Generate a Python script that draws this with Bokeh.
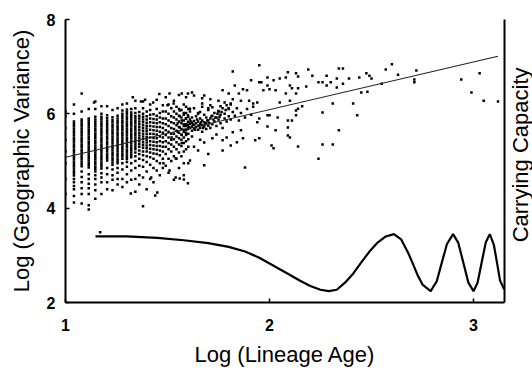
import math
from bokeh.plotting import figure
from bokeh.layouts import row
from bokeh.models import Range1d, LinearAxis, FixedTicker, Label
from bokeh.embed import file_html
from bokeh.resources import INLINE

# ---------------- data ----------------
# lineage ages (integers) that form the vertical stripes at the left
STRIPE_AGES = [10, 11, 12, 13, 14, 15, 16, 17, 18, 19, 20, 21, 22, 23, 24, 25,
               26, 27, 28, 29, 30, 31, 32, 33, 34, 35, 36, 37, 38, 39, 40]
# log geographic variance of the lineages in each stripe
STRIPE_Y = [
    [4.30, 4.62, 4.95, 5.20, 5.45, 5.70, 5.95, 6.05],
    [4.12, 4.26, 4.40, 4.47, 4.55, 4.62, 4.69, 4.74, 4.79, 4.84, 4.89, 4.94, 4.99, 5.04, 5.09, 5.14,
     5.19, 5.24, 5.29, 5.34, 5.39, 5.44, 5.49, 5.54, 5.59, 5.64, 5.69, 5.74, 5.79, 5.84, 6.00, 6.20],
    [4.10, 4.30, 4.42, 4.55, 4.66, 4.78, 4.89, 4.94, 4.99, 5.04, 5.09, 5.14, 5.19, 5.24, 5.29, 5.34,
     5.39, 5.44, 5.49, 5.54, 5.59, 5.64, 5.69, 5.74, 5.79, 5.84, 5.88, 6.05, 6.43],
    [3.97, 4.06, 4.30, 4.42, 4.52, 4.62, 4.72, 4.86, 4.91, 4.96, 5.01, 5.06, 5.11, 5.16, 5.21, 5.26,
     5.31, 5.36, 5.41, 5.46, 5.51, 5.56, 5.61, 5.66, 5.71, 5.76, 5.81, 5.86, 5.90, 6.10],
    [4.20, 4.38, 4.50, 4.62, 4.70, 4.78, 4.83, 4.88, 4.93, 4.98, 5.03, 5.08, 5.13, 5.18, 5.23, 5.28,
     5.33, 5.38, 5.43, 5.48, 5.53, 5.58, 5.63, 5.68, 5.73, 5.78, 5.83, 5.88, 5.94, 6.10, 6.26],
    [4.30, 4.55, 4.65, 4.74, 4.84, 4.89, 4.94, 4.99, 5.04, 5.09, 5.14, 5.19, 5.24, 5.29, 5.34, 5.39,
     5.44, 5.49, 5.54, 5.59, 5.64, 5.69, 5.74, 5.79, 5.84, 5.89, 5.94, 6.00, 6.16],
    [4.40, 4.55, 4.72, 4.85, 5.01, 5.06, 5.11, 5.16, 5.21, 5.26, 5.31, 5.36, 5.41, 5.46, 5.51, 5.56,
     5.61, 5.66, 5.71, 5.76, 5.81, 5.86, 5.91, 5.97, 6.16],
    [4.38, 4.60, 4.70, 4.82, 4.92, 4.97, 5.02, 5.07, 5.12, 5.17, 5.22, 5.27, 5.32, 5.37, 5.42, 5.47,
     5.52, 5.57, 5.62, 5.67, 5.72, 5.77, 5.82, 5.87, 5.93, 6.08],
    [4.50, 4.62, 4.75, 4.85, 4.95, 5.00, 5.05, 5.10, 5.15, 5.20, 5.25, 5.30, 5.35, 5.40, 5.45, 5.50,
     5.55, 5.60, 5.65, 5.70, 5.75, 5.80, 5.85, 5.90, 5.96, 6.12],
    [4.45, 4.62, 4.82, 4.95, 5.05, 5.10, 5.15, 5.20, 5.25, 5.30, 5.35, 5.40, 5.45, 5.50, 5.55, 5.60,
     5.65, 5.70, 5.75, 5.80, 5.85, 5.90, 5.95, 6.00, 6.07, 6.20],
    [4.55, 4.72, 4.88, 4.98, 5.04, 5.09, 5.14, 5.19, 5.24, 5.29, 5.34, 5.39, 5.44, 5.49, 5.54, 5.59,
     5.64, 5.69, 5.74, 5.79, 5.84, 5.89, 5.94, 5.99, 6.04, 6.09, 6.22],
    [4.60, 4.80, 4.95, 5.08, 5.13, 5.18, 5.23, 5.28, 5.33, 5.38, 5.43, 5.48, 5.53, 5.58, 5.63, 5.68,
     5.73, 5.78, 5.83, 5.88, 5.93, 5.98, 6.03, 6.10],
    [4.35, 4.62, 4.85, 5.00, 5.10, 5.18, 5.25, 5.30, 5.35, 5.40, 5.45, 5.50, 5.55, 5.60, 5.65, 5.70,
     5.75, 5.80, 5.85, 5.90, 5.95, 6.02, 6.12, 6.28],
    [4.50, 4.70, 4.90, 5.05, 5.15, 5.22, 5.30, 5.36, 5.42, 5.48, 5.54, 5.60, 5.66, 5.72, 5.78, 5.84,
     5.90, 5.96, 6.04],
    [4.65, 4.88, 5.02, 5.12, 5.20, 5.28, 5.34, 5.40, 5.46, 5.52, 5.58, 5.64, 5.70, 5.76, 5.82, 5.88,
     5.94, 6.00, 6.12, 6.26],
    [4.40, 4.78, 4.98, 5.10, 5.20, 5.27, 5.33, 5.39, 5.45, 5.51, 5.57, 5.63, 5.69, 5.75, 5.81, 5.88,
     5.95, 6.05],
    [4.62, 4.92, 5.08, 5.18, 5.26, 5.34, 5.42, 5.50, 5.58, 5.66, 5.74, 5.82, 5.90, 5.98, 6.08, 6.20],
    [4.55, 4.85, 5.05, 5.16, 5.25, 5.33, 5.41, 5.49, 5.57, 5.65, 5.73, 5.81, 5.89, 5.99],
    [4.80, 5.00, 5.15, 5.24, 5.32, 5.40, 5.48, 5.56, 5.64, 5.72, 5.80, 5.88, 5.96, 6.10, 6.30],
    [4.70, 4.95, 5.12, 5.22, 5.32, 5.42, 5.52, 5.62, 5.72, 5.82, 5.92, 6.02],
    [4.85, 5.05, 5.20, 5.30, 5.40, 5.50, 5.60, 5.70, 5.80, 5.90, 6.05, 6.18],
    [4.90, 5.15, 5.30, 5.42, 5.55, 5.65, 5.78, 5.90, 6.05, 6.35],
    [4.75, 5.05, 5.25, 5.38, 5.50, 5.62, 5.74, 5.86, 6.00, 6.20],
    [5.00, 5.20, 5.35, 5.45, 5.58, 5.70, 5.82, 5.95, 6.12],
    [4.60, 5.10, 5.30, 5.46, 5.58, 5.68, 5.80, 5.92, 6.05, 6.28],
    [5.05, 5.25, 5.40, 5.52, 5.64, 5.76, 5.88, 6.00, 6.15],
    [4.85, 5.18, 5.35, 5.48, 5.60, 5.72, 5.84, 5.96, 6.10, 6.40],
    [5.10, 5.32, 5.45, 5.56, 5.68, 5.80, 5.92, 6.08],
    [4.70, 5.20, 5.38, 5.50, 5.62, 5.74, 5.86, 5.98, 6.20],
    [5.25, 5.42, 5.55, 5.66, 5.78, 5.90, 6.02, 6.15, 6.35],
    [4.95, 5.30, 5.46, 5.58, 5.70, 5.82, 5.94, 6.10],
]

# remaining lineages (log age, log geographic variance)
CLOUD_POINTS = [
    (1.17, 3.49), (1.32, 4.31), (1.38, 4.04), (1.44, 4.27), (1.45, 4.33), (1.42, 4.65),
    (1.37, 6.26), (1.43, 6.24), (1.33, 6.35), (1.39, 6.30), (1.46, 6.42), (1.14, 6.24),
    (1.51, 4.80), (1.54, 4.65), (1.56, 4.63), (1.58, 4.61), (1.60, 4.53), (1.58, 4.95),
    (1.54, 5.06), (1.61, 5.01), (1.68, 4.91), (1.65, 5.22), (1.77, 5.22), (1.81, 5.33),
    (1.68, 5.39), (1.72, 5.48), (1.77, 5.44), (1.82, 5.61), (1.86, 5.65), (1.87, 5.48),
    (1.93, 5.44), (1.88, 4.86), (1.63, 5.30), (1.66, 5.45), (1.70, 5.15), (1.74, 5.56),
    (1.79, 5.50), (1.84, 5.40), (1.62, 5.52), (1.57, 5.38), (1.52, 5.50), (1.48, 4.95),
    (1.51, 6.43), (1.57, 6.43), (1.60, 6.43), (1.62, 6.45), (1.63, 6.39), (1.68, 6.39),
    (1.67, 6.33), (1.71, 6.31), (1.75, 6.28), (1.78, 6.24), (1.82, 6.31), (1.86, 6.28),
    (1.90, 6.28), (1.92, 6.22), (1.80, 6.12), (1.81, 6.22), (1.75, 6.05), (1.76, 6.16),
    (1.70, 6.12), (1.71, 6.18), (1.66, 6.04), (1.67, 6.22), (1.61, 6.11), (1.65, 6.00),
    (1.56, 6.07), (1.53, 6.22), (1.50, 6.18), (1.82, 6.90), (1.83, 6.60), (1.87, 6.52),
    (1.89, 6.50), (1.77, 6.50), (1.80, 6.43), (1.85, 6.43), (1.91, 6.71), (1.96, 6.67),
    (1.55, 5.62), (1.55, 5.80), (1.56, 5.71), (1.56, 5.95), (1.57, 5.55), (1.57, 5.86),
    (1.58, 5.66), (1.58, 5.78), (1.58, 6.02), (1.59, 5.60), (1.59, 5.74), (1.59, 5.90),
    (1.60, 5.68), (1.60, 5.76), (1.60, 5.83), (1.60, 5.97), (1.61, 5.70), (1.61, 5.79),
    (1.61, 5.88), (1.61, 6.05), (1.62, 5.64), (1.62, 5.73), (1.62, 5.81), (1.62, 5.92),
    (1.63, 5.69), (1.63, 5.77), (1.63, 5.85), (1.63, 6.12), (1.64, 5.72), (1.64, 5.80),
    (1.64, 5.95), (1.65, 5.66), (1.65, 5.75), (1.65, 5.84), (1.65, 6.02), (1.66, 5.70),
    (1.66, 5.79), (1.66, 5.90), (1.67, 5.62), (1.67, 5.76), (1.67, 5.86), (1.67, 6.15),
    (1.68, 5.73), (1.68, 5.82), (1.68, 5.98), (1.69, 5.68), (1.69, 5.80), (1.69, 5.92),
    (1.70, 5.75), (1.70, 5.86), (1.70, 6.08), (1.71, 5.70), (1.71, 5.90), (1.72, 5.78),
    (1.72, 5.96), (1.72, 6.14), (1.73, 5.84), (1.73, 6.02), (1.74, 5.74), (1.74, 5.92),
    (1.75, 5.88), (1.75, 6.06), (1.76, 5.80), (1.76, 5.98), (1.77, 5.70), (1.77, 6.12),
    (1.78, 5.90), (1.78, 6.00), (1.79, 5.84), (1.79, 6.18), (1.80, 5.95), (1.80, 6.10),
    (1.81, 5.88), (1.81, 6.20), (1.82, 6.04), (1.83, 5.96), (1.84, 6.12), (1.85, 5.86),
    (1.86, 6.02), (1.88, 5.92), (1.89, 6.10), (1.91, 5.98), (1.92, 6.15),
    (1.605, 5.72), (1.615, 5.84), (1.625, 5.77), (1.635, 5.66), (1.645, 5.88), (1.655, 5.74),
    (1.665, 5.82), (1.675, 5.70), (1.685, 5.78), (1.695, 5.86), (1.705, 5.80), (1.715, 5.95),
    (1.725, 5.88), (1.735, 5.92), (1.745, 6.00), (1.755, 5.94), (1.765, 6.04), (1.785, 6.08),
    (1.95, 7.03), (1.95, 6.67), (1.99, 6.77), (1.99, 6.60), (2.00, 6.52), (2.03, 6.50),
    (1.97, 6.50), (2.02, 6.71), (2.05, 6.75), (2.08, 6.77), (2.09, 6.88), (2.13, 6.86),
    (2.14, 6.79), (2.19, 6.94), (2.21, 6.81), (2.24, 6.67), (2.26, 6.67), (2.28, 6.81),
    (2.28, 6.60), (2.30, 6.67), (2.33, 6.75), (2.34, 6.96), (2.36, 6.96), (2.36, 6.64),
    (2.39, 6.75), (2.44, 6.77), (2.10, 6.60), (2.11, 6.54), (2.14, 6.54), (2.18, 6.58),
    (2.13, 6.43), (2.08, 6.43), (2.33, 6.56), (1.94, 6.24), (2.05, 6.24), (2.10, 6.28),
    (2.14, 6.11), (1.99, 5.97), (2.00, 5.97), (2.04, 5.92), (2.13, 6.07), (2.13, 5.97),
    (2.16, 6.16), (2.26, 6.03), (2.31, 6.22), (2.41, 6.22), (2.43, 5.97), (1.95, 5.90),
    (1.94, 5.82), (1.99, 5.73), (2.03, 5.65), (2.09, 5.86), (2.11, 5.86), (2.09, 5.71),
    (2.34, 5.65), (1.95, 5.48), (2.09, 5.54), (2.10, 5.50), (2.01, 5.33), (2.02, 5.27),
    (2.14, 5.31), (2.26, 5.35), (2.31, 5.35), (2.24, 5.05),
    (2.475, 6.86), (2.49, 6.81), (2.50, 6.75), (2.57, 6.94), (2.60, 7.05), (2.63, 6.83),
    (2.72, 6.92), (2.71, 6.73), (2.71, 6.67), (2.55, 6.64), (2.45, 6.45), (2.48, 6.47),
    (2.94, 6.73), (3.03, 6.86), (2.99, 6.45), (3.05, 6.28), (3.12, 6.26),
]

# fitted regression line (log age, log geographic variance)
FIT_X = [1.00, 3.12]
FIT_Y = [5.08, 7.22]

# carrying capacity through time (log age, level on the chart)
CC_X = [1.147, 1.30, 1.45, 1.58, 1.70, 1.80, 1.88, 1.95, 2.02, 2.09, 2.15, 2.20, 2.25, 2.29,
        2.33, 2.37, 2.41, 2.45, 2.49, 2.53, 2.57, 2.61, 2.645, 2.68, 2.70, 2.725, 2.75, 2.79,
        2.82, 2.845, 2.87, 2.90, 2.925, 2.95, 2.975, 3.00, 3.02, 3.04, 3.06, 3.08, 3.10,
        3.115, 3.13, 3.15]
CC_Y = [3.40, 3.40, 3.37, 3.32, 3.26, 3.18, 3.08, 2.95, 2.78, 2.61, 2.46, 2.35, 2.27, 2.24,
        2.27, 2.42, 2.61, 2.85, 3.08, 3.27, 3.40, 3.45, 3.34, 3.05, 2.85, 2.59, 2.38, 2.24,
        2.45, 2.85, 3.24, 3.45, 3.27, 2.85, 2.42, 2.24, 2.42, 2.85, 3.27, 3.45, 3.22,
        2.85, 2.47, 2.28]

X_TICKS = [1, 2, 3]
Y_TICKS = [2, 4, 6, 8]

# ---------------- figure ----------------
FONT = "Liberation Sans"

p = figure(width=506, height=372, output_backend="svg", toolbar_location=None,
           x_range=Range1d(1.0, 3.152), y_range=Range1d(2, 8),
           min_border_left=65, min_border_right=2, min_border_top=19, min_border_bottom=70)
p.extra_y_ranges = {"cc": Range1d(2, 8)}
p.outline_line_color = None
p.xgrid.visible = False
p.ygrid.visible = False
p.background_fill_color = "white"
p.border_fill_color = "white"

sx, sy = [], []
for age, ys in zip(STRIPE_AGES, STRIPE_Y):
    for yv in ys:
        sx.append(math.log10(age))
        sy.append(yv)
for xv, yv in CLOUD_POINTS:
    sx.append(xv)
    sy.append(yv)

p.scatter(sx, sy, marker="square", size=2.5, fill_color="black", line_color=None)
p.line(FIT_X, FIT_Y, line_color="#222222", line_width=1.1)
p.line(CC_X, CC_Y, line_color="black", line_width=2.2, y_range_name="cc")

# axes
for ax in (p.xaxis[0], p.yaxis[0]):
    ax.axis_line_width = 2
    ax.axis_line_color = "black"
    ax.major_tick_in = 4
    ax.major_tick_out = 0
    ax.major_tick_line_width = 1.5
    ax.minor_tick_in = 0
    ax.minor_tick_out = 0
    ax.major_label_text_font = FONT
    ax.major_label_text_font_size = "16px"
    ax.major_label_text_font_style = "bold"
    ax.major_label_text_color = "black"
    ax.axis_label_text_font = FONT
    ax.axis_label_text_font_size = "22px"
    ax.axis_label_text_font_style = "normal"
    ax.axis_label_text_color = "black"

p.xaxis.ticker = FixedTicker(ticks=X_TICKS)
p.yaxis.ticker = FixedTicker(ticks=Y_TICKS)
p.xaxis.axis_label = "Log (Lineage Age)"
p.yaxis.axis_label = "Log (Geographic Variance)"
p.xaxis.major_label_standoff = 16
p.xaxis.axis_label_standoff = 8
p.yaxis.major_label_standoff = 10
p.yaxis.axis_label_standoff = 10

right = LinearAxis(y_range_name="cc", ticker=FixedTicker(ticks=[]))
right.axis_line_width = 2
right.axis_line_color = "black"
right.major_tick_in = 0
right.major_tick_out = 0
right.minor_tick_in = 0
right.minor_tick_out = 0
p.add_layout(right, "right")

# narrow side panel holding the right-hand axis title
side = figure(width=26, height=372, output_backend="svg", toolbar_location=None,
              x_range=Range1d(0, 26), y_range=Range1d(0, 372),
              x_axis_location=None, y_axis_location=None,
              min_border=0, min_border_left=0, min_border_right=0,
              min_border_top=0, min_border_bottom=0)
side.outline_line_color = None
side.xgrid.visible = False
side.ygrid.visible = False
side.background_fill_color = "white"
side.border_fill_color = "white"
side.add_layout(Label(x=14, y=194, text="Carrying Capacity", angle=90, angle_units="deg",
                      text_align="center", text_baseline="middle",
                      text_font=FONT, text_font_size="22px", text_color="black"))

layout = row(p, side)
open("out.html", "w").write(file_html(layout, INLINE))
